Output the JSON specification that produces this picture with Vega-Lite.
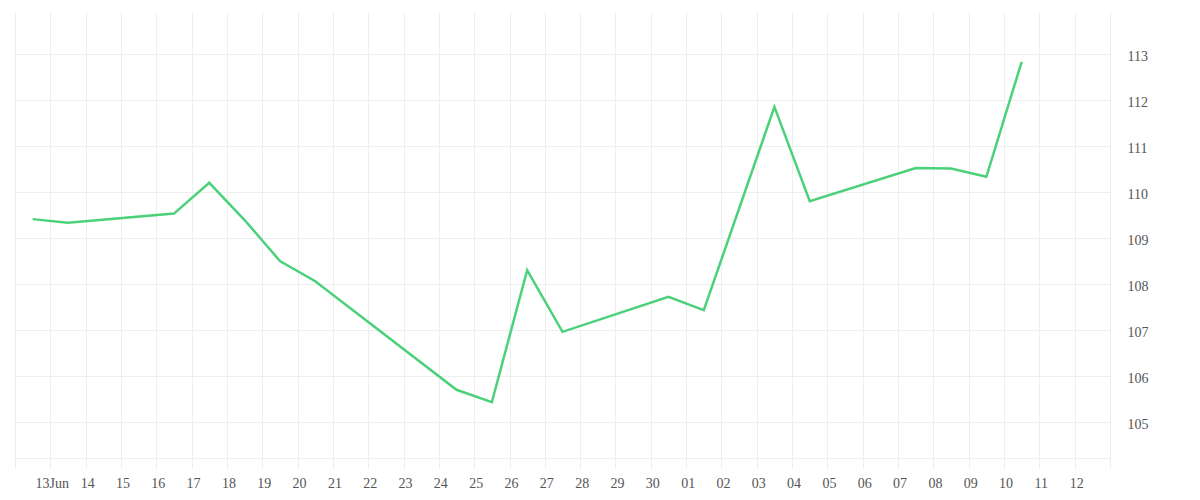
{
  "$schema": "https://vega.github.io/schema/vega-lite/v6.json",
  "autosize": "none",
  "width": 1095,
  "height": 446,
  "padding": {"left": 15, "top": 12, "right": 90, "bottom": 42},
  "background": "#ffffff",
  "config": {
    "view": {"stroke": null},
    "axis": {
      "labelFont": "Liberation Serif",
      "labelFontSize": 14,
      "labelColor": "#555555",
      "gridColor": "#eeeeee",
      "gridWidth": 1,
      "tickColor": "#eeeeee",
      "domainColor": "#eeeeee"
    }
  },
  "data": {
    "values": [
      {"date": "2025-06-12T12:00:00", "value": 109.41},
      {"date": "2025-06-13T12:00:00", "value": 109.33},
      {"date": "2025-06-16T12:00:00", "value": 109.53},
      {"date": "2025-06-17T12:00:00", "value": 110.20},
      {"date": "2025-06-18T12:00:00", "value": 109.39},
      {"date": "2025-06-19T12:00:00", "value": 108.50},
      {"date": "2025-06-20T12:00:00", "value": 108.06},
      {"date": "2025-06-24T12:00:00", "value": 105.70},
      {"date": "2025-06-25T12:00:00", "value": 105.43},
      {"date": "2025-06-26T12:00:00", "value": 108.30},
      {"date": "2025-06-27T12:00:00", "value": 106.96},
      {"date": "2025-06-30T12:00:00", "value": 107.72},
      {"date": "2025-07-01T12:00:00", "value": 107.43},
      {"date": "2025-07-03T12:00:00", "value": 111.85},
      {"date": "2025-07-04T12:00:00", "value": 109.80},
      {"date": "2025-07-07T12:00:00", "value": 110.52},
      {"date": "2025-07-08T12:00:00", "value": 110.51},
      {"date": "2025-07-09T12:00:00", "value": 110.33},
      {"date": "2025-07-10T12:00:00", "value": 112.83}
    ]
  },
  "mark": {"type": "line", "color": "#4cd17b", "strokeWidth": 2.5},
  "encoding": {
    "x": {
      "field": "date",
      "type": "temporal",
      "scale": {
        "domain": [
          {"year": 2025, "month": "Jun", "date": 12},
          {"year": 2025, "month": "Jul", "date": 13}
        ]
      },
      "axis": {
        "title": null,
        "tickCount": {"interval": "day", "step": 1},
        "grid": true,
        "domain": true,
        "ticks": true,
        "tickSize": 10,
        "labelPadding": 8,
        "labelOffset": 1.5,
        "labelFlush": false,
        "labelOverlap": false,
        "labelAlign": "center",
        "labelExpr": "(month(datum.value) == 6 && date(datum.value) == 13) || (month(datum.value) == 5 && date(datum.value) == 12) ? '' : (date(datum.value) == 13 ? '13Jun' : timeFormat(datum.value, '%d'))"
      }
    },
    "y": {
      "field": "value",
      "type": "quantitative",
      "scale": {"domain": [104.217, 113.913], "nice": false, "zero": false},
      "axis": {
        "title": null,
        "orient": "right",
        "values": [105, 106, 107, 108, 109, 110, 111, 112, 113],
        "grid": true,
        "ticks": false,
        "domain": false,
        "labelPadding": 17,
        "labelOffset": 2.5
      }
    }
  }
}
